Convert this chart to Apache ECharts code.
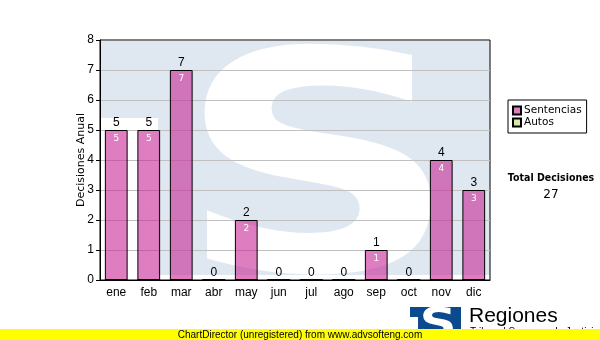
<!DOCTYPE html>
<html>
<head>
<meta charset="utf-8">
<script src="https://cdn.jsdelivr.net/npm/echarts@6/dist/echarts.min.js"></script>
<style>
html,body{margin:0;padding:0;background:#fff;}
#chart{width:600px;height:340px;}
</style>
</head>
<body>
<div id="chart"></div>
<script>
var months = ['ene','feb','mar','abr','may','jun','jul','ago','sep','oct','nov','dic'];
var sentencias = [5,5,7,0,2,0,0,0,1,0,4,3];
var autos = [0,0,0,0,0,0,0,0,0,0,0,0];
var yTicks = [0,1,2,3,4,5,6,7,8];
var legendNames = ['Sentencias','Autos'];
var yAxisTitle = 'Decisiones Anual';
var totalTitle = 'Total Decisiones';

var total = 0;
for (var i = 0; i < sentencias.length; i++) total += sentencias[i] + autos[i];

var chart = echarts.init(document.getElementById('chart'), null, {renderer:'canvas'});
var axisFont = '"Liberation Sans", Arial, sans-serif';
var uiFont = '"DejaVu Sans", Verdana, sans-serif';

var option = {
  animation: false,
  backgroundColor: '#fff',
  grid: {left:100, right:110, top:40, bottom:60, show:true, borderColor:'#000', borderWidth:1, backgroundColor:'transparent'},
  legend: {
    data: legendNames,
    orient: 'vertical',
    left: 508, top: 100,
    padding: [5, 5, 5, 4],
    itemGap: 1,
    itemWidth: 8, itemHeight: 8,
    icon: 'rect',
    borderColor: '#000', borderWidth: 1,
    textStyle: {fontFamily: uiFont, fontSize: 10.5, color:'#000', padding:[0,0,0,-2]}
  },
  xAxis: {
    type: 'category',
    data: months,
    axisLine: {lineStyle:{color:'#000', width:1}},
    axisTick: {alignWithLabel:true, length:4, lineStyle:{color:'#000'}},
    axisLabel: {color:'#000', fontFamily: axisFont, fontSize: 12, margin: 7},
    splitLine: {show:false}
  },
  yAxis: {
    type: 'value',
    min: yTicks[0], max: yTicks[yTicks.length-1], interval: 1,
    name: yAxisTitle,
    nameLocation: 'middle',
    nameGap: 13,
    nameMoveOverlap: false,
    nameTextStyle: {fontFamily: uiFont, fontSize: 11, color:'#000'},
    axisLine: {show:true, lineStyle:{color:'#000'}},
    axisTick: {show:true, length:4, lineStyle:{color:'#000'}},
    axisLabel: {color:'#000', fontFamily: axisFont, fontSize: 12, margin: 6},
    splitLine: {show:true, showMaxLine:false, lineStyle:{color:'#c0c0c0', width:1}}
  },
  series: [
    {
      name: legendNames[0], type: 'bar', data: sentencias,
      barWidth: '70%', barGap: '-100%',
      itemStyle: {color:'rgba(200,40,150,0.6)', borderColor:'#000', borderWidth:1},
      label: {show:true, position:'top', distance:1, color:'#000', fontFamily: axisFont, fontSize: 12},
      z: 3
    },
    {
      name: legendNames[1], type: 'bar', data: autos,
      barWidth: '70%', barGap: '-100%',
      itemStyle: {color:'#d8eaa2', borderColor:'#000', borderWidth:1},
      label: {show:false},
      z: 2
    },
    {
      name: '_inner', type: 'bar', data: sentencias,
      barWidth: '70%', barGap: '-100%',
      itemStyle: {color:'rgba(0,0,0,0)', borderWidth:0},
      label: {show:true, position:'insideTop', distance:4, color:'#fff', fontFamily: uiFont, fontSize: 9,
        formatter: function(p){ return p.value === 0 ? '' : String(p.value); }},
      z: 4
    }
  ],
  graphic: [
    {type:'rect', z:-10, shape:{x:101,y:41,width:389,height:234}, style:{fill:'#dfe8f1'}},
    {type:'rect', z:-9, shape:{x:101,y:118,width:57,height:162}, style:{fill:'#fff'}},
    {type:'text', z:-8, x:318, y:191, scaleX:1.29, style:{text:'S', font:'bold 305px "DejaVu Sans"', fill:'#fff', align:'center', verticalAlign:'middle'}},

    {type:'text', z:10, x:551, y:178, scaleX:0.9, style:{text: totalTitle, font:'bold 10.5px "DejaVu Sans"', fill:'#000', align:'center', verticalAlign:'middle'}},
    {type:'text', z:10, x:551, y:195, style:{text: String(total), font:'12px "DejaVu Sans"', fill:'#000', align:'center', verticalAlign:'middle'}},

    {type:'rect', z:10, shape:{x:410,y:307,width:51,height:33}, style:{fill:'#0b4a8e'}},
    {type:'rect', z:11, shape:{x:410,y:317,width:8,height:23}, style:{fill:'#fff'}},
    {type:'text', z:12, x:438, y:327, scaleX:1.29, style:{text:'S', font:'bold 40px "DejaVu Sans"', fill:'#fff', align:'center', verticalAlign:'middle'}},
    {type:'text', z:10, x:469, y:316, style:{text:'Regiones', font:'21px "Liberation Sans"', fill:'#000', align:'left', verticalAlign:'middle'}},
    {type:'text', z:10, x:470, y:327, style:{text:'Tribunal Supremo de Justicia', font:'10px "Liberation Sans"', fill:'#000', align:'left', verticalAlign:'top'}},
    {type:'rect', z:20, shape:{x:0,y:329,width:600,height:11}, style:{fill:'#ffff00'}},
    {type:'text', z:21, x:300, y:335, style:{text:'ChartDirector (unregistered) from www.advsofteng.com', font:'10px "Liberation Sans"', fill:'#000', align:'center', verticalAlign:'middle'}}
  ]
};
chart.setOption(option);
</script>
</body>
</html>
